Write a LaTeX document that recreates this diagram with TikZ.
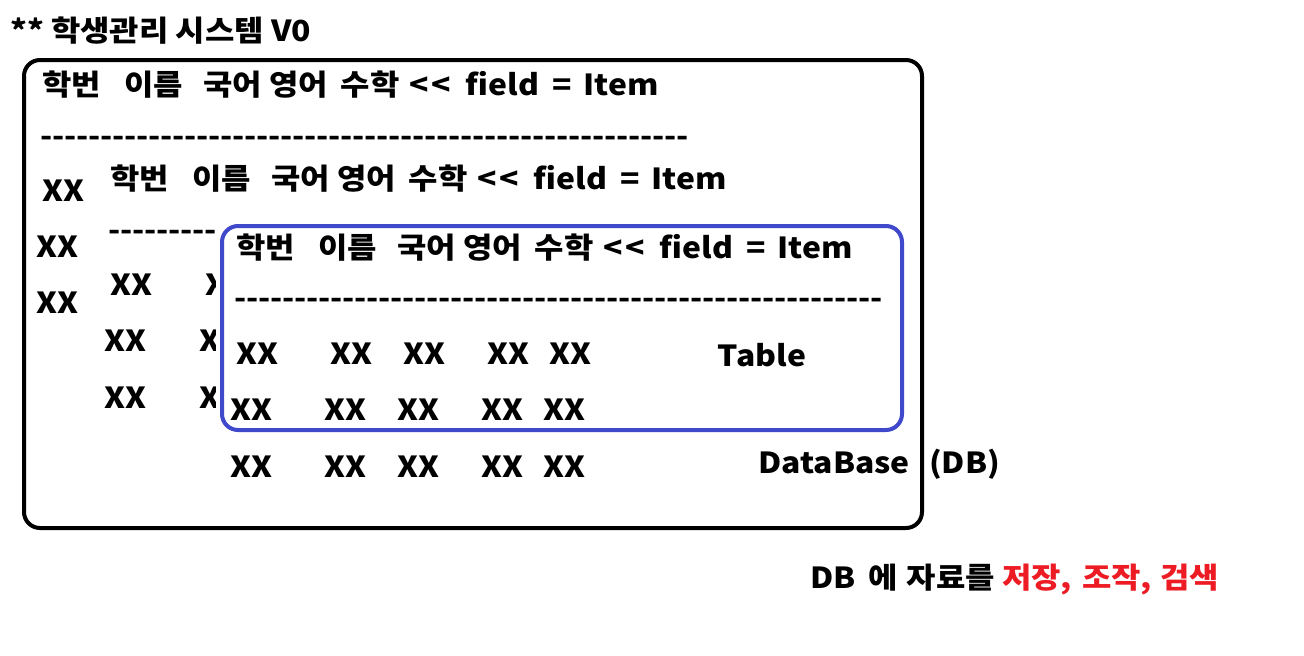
\documentclass[tikz,border=0pt]{standalone}
\usepackage{fontspec}
\setmainfont{Noto Sans CJK KR}[FakeStretch=1.1]
\usetikzlibrary{positioning}
\definecolor{tblblue}{RGB}{64,72,204}
\definecolor{hlred}{RGB}{237,28,36}
\newcommand\dashrow[1]{\foreach \i in {1,...,#1}{\makebox[12pt]{-}}}
\newcommand\fieldrow{학번\hspace{0.8em}이름\hspace{0.7em}국어 영어\hspace{0.45em}수학\hspace{0.35em}<\hspace{0.1em}<\hspace{0.5em}field\hspace{0.45em}=\hspace{0.4em}Item}

\begin{document}
\begin{tikzpicture}[
  x=1pt, y=-1pt,
  txt/.style={anchor=base west, inner sep=0pt, font=\fontsize{29pt}{32pt}\selectfont\bfseries},
  dbframe/.style={draw=black, line width=4pt, rounded corners=16pt, inner sep=0pt},
  tblframe/.style={draw=tblblue, line width=4pt, rounded corners=16pt, inner sep=0pt, fill=white},
]
\useasboundingbox (0,0) rectangle (1304,656);
\node[txt] (title) at (10,41) {** 학생관리 시스템 V0};
\node[dbframe, minimum width=898pt, minimum height=468pt] (db) at (473,294) {};
% level 1
\node[txt] (head1) at (42,95) {\fieldrow};
\node[txt] (dash1) at (40,146) {\dashrow{54}};
\node[txt] (a1) at (42,201) {XX};
\node[txt] (a2) at (36,257) {XX};
\node[txt] (a3) at (36,313) {XX};
% level 2 (mostly hidden behind the table)
\node[txt] (head2) at (110,189) {\fieldrow};
\node[txt] (dash2) at (108,240) {\dashrow{9}};
\node[txt] (b1) at (110,295) {XX};
\node[txt] (b2) at (104,351) {XX};
\node[txt] (b3) at (104,408) {XX};
\begin{scope}
  \clip (190,260) rectangle (215,420);
  \node[txt] (b1x) at (205,295) {X};
  \node[txt] (b2x) at (199,351) {X};
  \node[txt] (b3x) at (199,408) {X};
\end{scope}
% level 3
\node[tblframe, minimum width=680pt, minimum height=204pt] (tbl) at (562,328) {};
\node[txt] (head3) at (236,258) {\fieldrow};
\node[txt] (dash3) at (234,308) {\dashrow{54}};
\foreach \x [count=\k] in {236,330,403,487,549}
  \node[txt] (c1\k) at (\x,364) {XX};
\foreach \x [count=\k] in {230,324,397,481,543} {
  \node[txt] (c2\k) at (\x,420) {XX};
  \node[txt] (c3\k) at (\x,477) {XX};
}
\node[txt, anchor=base] (tname) at (762,366) {Table};
\node[txt, anchor=base east] (dbname) at (910,473) {DataBase};
\node[txt] (dbabbr) at (929,473) {(DB)};
\node[txt] (note) at (810,588) {DB\hspace{0.45em}에\hspace{0.3em}자료를\hspace{0.25em}\textcolor{hlred}{저장,\hspace{0.35em}조작,\hspace{0.3em}검색}};
\end{tikzpicture}
\end{document}
